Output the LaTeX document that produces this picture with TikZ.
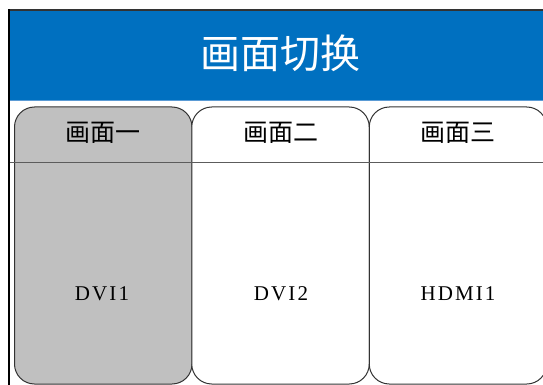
\documentclass[tikz,border=0pt]{standalone}
\usepackage{fontspec}
\newfontfamily\cjk{Noto Sans CJK SC}
\newfontfamily\serf[LetterSpace=10]{Liberation Serif}
\definecolor{hdrblue}{HTML}{0070C0}
\definecolor{hdrline}{HTML}{5B9BD5}
\definecolor{tabgray}{HTML}{C0C0C0}
\definecolor{edge}{HTML}{333333}
\begin{document}
\begin{tikzpicture}[x=1pt,y=-1pt,
  tab/.style={draw=edge, line width=1pt, rounded corners=20pt, minimum width=177.5pt, minimum height=277pt, inner sep=0pt},
  tablabel/.style={font=\cjk\fontsize{25pt}{25pt}\selectfont, text=black, inner sep=0pt},
  srclabel/.style={font=\serf\fontsize{21pt}{21pt}\selectfont, text=black, inner sep=0pt},
  title/.style={font=\cjk\fontsize{40pt}{40pt}\selectfont, text=white, inner sep=0pt}]
\useasboundingbox (0,0) rectangle (543,385);
\clip (0,0) rectangle (543,385);
\fill[white] (0,0) rectangle (543,385);
% header
\fill[hdrblue] (9,10) rectangle (543,100);
\draw[hdrline, line width=1.5pt] (9,100.5) -- (543,100.5);
\draw[edge, line width=1.2pt] (9,10) -- (543,10);
\node[title] (ttl) at (280,53) {画面切换};
% tabs
\node[tab, fill=tabgray] (t1) at (103.25,245.5) {};
\node[tab, fill=white] (t2) at (280.5,245.5) {};
\node[tab, fill=white] (t3) at (458,245.5) {};
% separator line
\draw[edge!80, line width=1.5pt] (9,162.5) -- (543,162.5);
% left border
\draw[black, line width=2pt] (8.5,9.5) -- (8.5,385);
% labels
\node[tablabel] (l1) at (103,133) {画面一};
\node[tablabel] (l2) at (281,133) {画面二};
\node[tablabel] (l3) at (458,133) {画面三};
\node[srclabel] (s1) at (102,294) {DVI1};
\node[srclabel] (s2) at (281,294) {DVI2};
\node[srclabel] (s3) at (458,294) {HDMI1};
\end{tikzpicture}
\end{document}
